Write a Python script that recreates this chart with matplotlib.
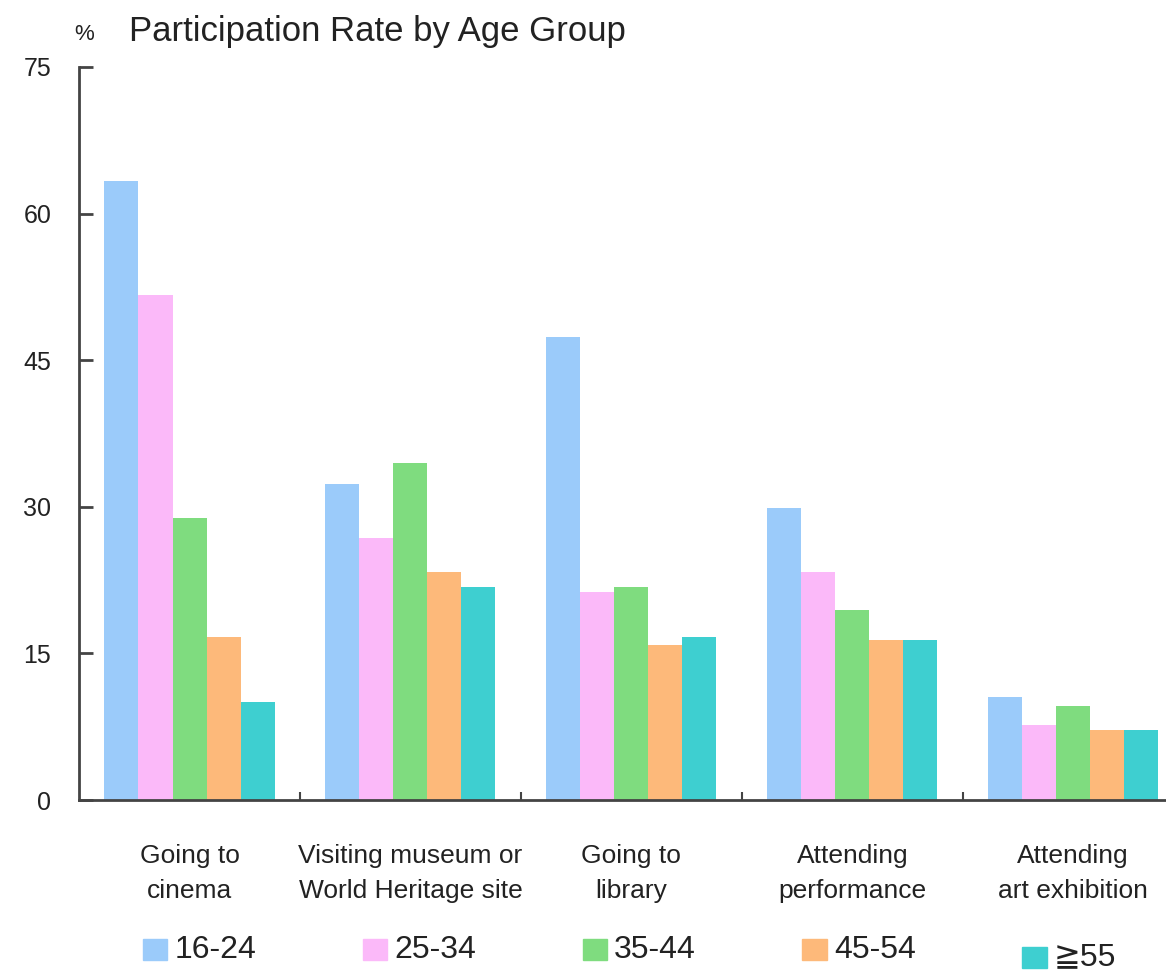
import numpy as np
import matplotlib.pyplot as plt
from matplotlib.patches import Rectangle

plt.rcParams['font.family'] = ['Liberation Sans', 'DejaVu Sans']

activities = ["Going to\ncinema", "Visiting museum or\nWorld Heritage site",
              "Going to\nlibrary", "Attending\nperformance", "Attending\nart exhibition"]
age_groups = ["16-24", "25-34", "35-44", "45-54", "≧55"]
colors = ["#9BCBFA", "#FBB9F9", "#7FDC7F", "#FDB97A", "#3ECFD0"]

rate_16_24 = [63.3, 32.3, 47.4, 29.9, 10.5]
rate_25_34 = [51.7, 26.8, 21.3, 23.3, 7.7]
rate_35_44 = [28.9, 34.5, 21.8, 19.4, 9.6]
rate_45_54 = [16.7, 23.3, 15.9, 16.4, 7.2]
rate_55_up = [10.0, 21.8, 16.7, 16.4, 7.2]
rates = [rate_16_24, rate_25_34, rate_35_44, rate_45_54, rate_55_up]

fig = plt.figure(figsize=(11.66, 9.76), dpi=100)
ax = fig.add_axes([0.0678, 0.1803, 0.9322, 0.7511])

x = np.arange(len(activities))
w = 0.154
for i, (vals, c) in enumerate(zip(rates, colors)):
    ax.bar(x + (i - 2) * w, vals, width=w, color=c, edgecolor='none')

ax.set_ylim(0, 75)
ax.set_xlim(-0.5, 4.42)
ax.set_yticks([0, 15, 30, 45, 60, 75])
ax.tick_params(axis='y', direction='in', length=10, width=2, color='#444444',
               labelsize=18, pad=20, labelcolor='#222222')
ax.set_xticks(x)
ax.set_xticklabels(activities, fontsize=19, linespacing=1.55, color='#222222')
ax.tick_params(axis='x', length=0, pad=32)
ax.set_xticks(np.arange(0.5, 4.5, 1), minor=True)
ax.tick_params(axis='x', which='minor', direction='in', length=6, width=1.5, color='#444444')

for s in ['top', 'right']:
    ax.spines[s].set_visible(False)
for s in ['left', 'bottom']:
    ax.spines[s].set_linewidth(2)
    ax.spines[s].set_color('#444444')

# title and unit
fig.text(0.111, 0.968, "Participation Rate by Age Group", fontsize=25,
         color='#222222', va='center', ha='left')
fig.text(0.064, 0.965, "%", fontsize=16, color='#222222', va='center', ha='left')

# legend row drawn by hand
for i, (name, c) in enumerate(zip(age_groups, colors)):
    lx = 0.1226 + i * 0.1885
    ly = 0.008 if i == 4 else 0.016
    fig.patches.append(Rectangle((lx, ly), 0.021, 0.022, transform=fig.transFigure,
                                 color=c, figure=fig))
    fig.text(lx + 0.027, ly + 0.011, name, fontsize=23, color='#222222',
             va='center', ha='left')

fig.savefig("out.png", dpi=100)
